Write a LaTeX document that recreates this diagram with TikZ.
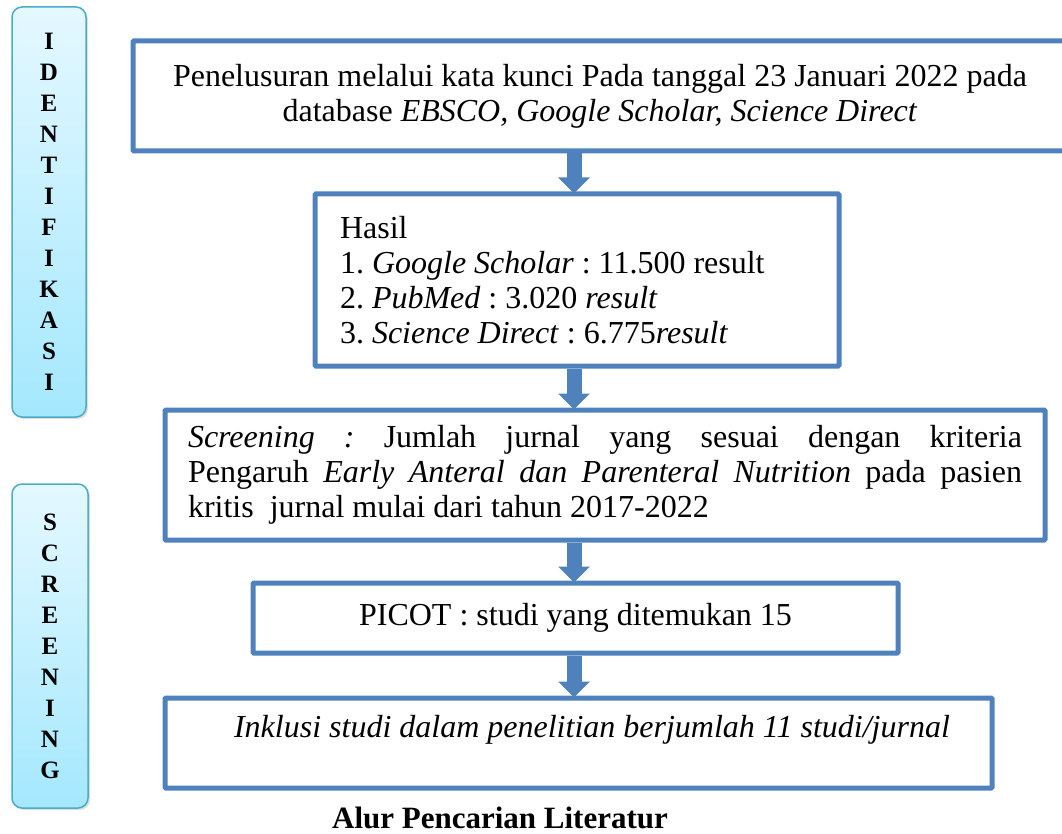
\documentclass[tikz,border=0pt]{standalone}
\usepackage{fontspec}
\setmainfont{Liberation Serif}
\usetikzlibrary{arrows.meta,shadows}
\definecolor{boxblue}{HTML}{4F81BD}
\definecolor{sideedge}{HTML}{4BACC6}
\definecolor{sidetop}{HTML}{E4F8FF}
\definecolor{sidebottom}{HTML}{A4E8FE}

\begin{document}
\frenchspacing
\begin{tikzpicture}[x=1pt,y=-1pt,
    flowbox/.style={draw=boxblue,line width=5pt,rounded corners=1pt,font=\fontsize{32}{35}\selectfont},
    sidebar/.style={draw=sideedge,line width=1.5pt,rounded corners=10pt,top color=sidetop,bottom color=sidebottom,
      drop shadow={opacity=0.25,shadow xshift=2pt,shadow yshift=-2pt},align=center,font=\fontsize{25}{31}\selectfont\bfseries},
    flow/.style={draw=boxblue,line width=15pt,shorten >=-2pt,-{Triangle[width=31pt,length=16pt]}}]
        \useasboundingbox (0,0) rectangle (1062,834);
        \clip (0,0) rectangle (1062,834);

        % side labels
        \node[sidebar,minimum width=74pt,minimum height=410pt] (ident)  at (49,212) {I\\D\\E\\N\\T\\I\\F\\I\\K\\A\\S\\I};
        \node[sidebar,minimum width=76pt,minimum height=324pt] (screen) at (50,646) {S\\C\\R\\E\\E\\N\\I\\N\\G};

        % flow boxes
        \node[flowbox,minimum width=934pt,minimum height=110pt,align=center] (search) at (600,96)
            {Penelusuran melalui kata kunci Pada tanggal 23 Januari 2022 pada\\database \textit{EBSCO, Google Scholar, Science Direct}};
        \node[flowbox,minimum height=172pt,text width=474pt,inner xsep=25pt,align=justify] (hasil) at (577,280)
            {Hasil\\1. \textit{Google Scholar} : 11.500 result\\2. \textit{PubMed} : 3.020 \textit{result}\\3. \textit{Science Direct} : 6.775\textit{result}};
        \node[flowbox,minimum height=130pt,text width=834pt,inner xsep=23pt,align=justify] (screening) at (605,475)
            {\textit{Screening :} Jumlah jurnal yang sesuai dengan kriteria\linebreak
             Pengaruh \textit{Early Anteral dan Parenteral Nutrition} pada pasien\linebreak
             kritis~ jurnal mulai dari tahun 2017-2022};
        \node[flowbox,minimum width=645pt,minimum height=70pt] (picot) at (575.5,618) {PICOT : studi yang ditemukan 15};
        \node[flowbox,minimum width=827pt,minimum height=90pt] (inklusibox) at (578.5,743) {};
        \node[font=\fontsize{32}{35}\selectfont] (inklusi) at (592,730) {\textit{Inklusi studi dalam penelitian berjumlah 11 studi/jurnal}};

        \node[font=\fontsize{31}{36}\selectfont\bfseries] (title) at (500,818) {Alur Pencarian Literatur};

        % arrows
        \coordinate (spine) at (574,0);
        \draw[flow] (search.south -| spine)    -- (hasil.north -| spine);
        \draw[flow] (hasil.south -| spine)     -- (screening.north -| spine);
        \draw[flow] (screening.south -| spine) -- (picot.north -| spine);
        \draw[flow] (picot.south -| spine)     -- (inklusibox.north -| spine);
    \end{tikzpicture}
\end{document}
